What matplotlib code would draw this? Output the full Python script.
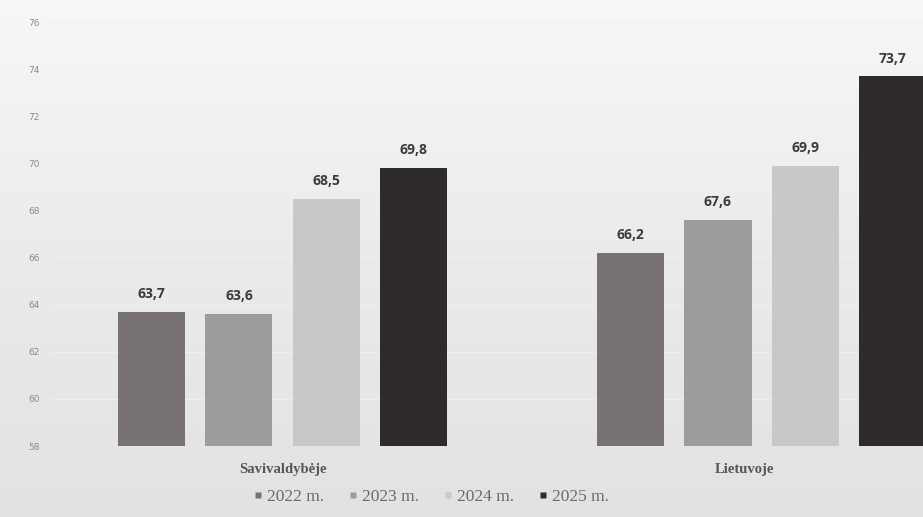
import matplotlib
matplotlib.use("Agg")
import matplotlib.pyplot as plt
import numpy as np
from matplotlib.lines import Line2D

categories = ["Savivaldybėje", "Lietuvoje"]
years = ["2022 m.", "2023 m.", "2024 m.", "2025 m."]
values = {
    "2022 m.": [63.7, 66.2],
    "2023 m.": [63.6, 67.6],
    "2024 m.": [68.5, 69.9],
    "2025 m.": [69.8, 73.7],
}
yticks = [58, 60, 62, 64, 66, 68, 70, 72, 74, 76]
colors = ["#787274", "#9d9b9c", "#c9c8c9", "#2f2a2d"]

fig = plt.figure(figsize=(9.23, 5.17), dpi=100)

# background gradient
bg = fig.add_axes([0, 0, 1, 1], zorder=-10)
grad = np.linspace(0, 1, 256).reshape(-1, 1)
bg.imshow(grad, aspect="auto", cmap=matplotlib.colors.LinearSegmentedColormap.from_list(
    "g", ["#f7f7f6", "#ebebea", "#e2e2e2"]), extent=[0, 1, 0, 1], origin="upper")
bg.axis("off")

ax = fig.add_axes([51 / 923, 71 / 517, 872 / 923, 424 / 517])
ax.set_facecolor("none")

centers = np.array([0, 5.5])
offsets = [-1.5, -0.5, 0.5, 1.5]
width = 0.77
for i, y in enumerate(years):
    xs = centers + offsets[i]
    ax.bar(xs, np.array(values[y]) - 58, bottom=58, width=width,
           color=colors[i], zorder=3)
    for x, v in zip(xs, values[y]):
        ax.text(x, v + 0.45, f"{v:.1f}".replace(".", ","), ha="center", va="bottom",
                fontsize=10, fontweight="bold", color="#3c3a3b",
                family="Open Sans", zorder=4)

ax.set_xlim(-2.658, 7.354)
ax.set_ylim(58, 76)
ax.set_yticks(yticks)
ax.set_yticklabels([str(t) for t in yticks], fontsize=6.5, color="#8a8a8a")
ax.tick_params(axis="y", length=0, pad=8)
ax.tick_params(axis="x", length=0)
ax.set_xticks([])
for s in ax.spines.values():
    s.set_visible(False)
ax.grid(axis="y", color="#f0f0f0", linewidth=0.7, zorder=0)

for c, name in zip(centers, categories):
    ax.text(c if name != "Lietuvoje" else c - 0.2, 57.0, name, ha="center", va="center",
            fontsize=10.5, fontweight="bold", color="#555555",
            family="Liberation Serif")

handles = [Line2D([0], [0], marker="s", linestyle="none", markersize=5,
                  markerfacecolor=colors[i], markeredgecolor="none") for i in range(4)]
fig.legend(handles, years, loc="center", bbox_to_anchor=(430 / 923, 1 - 497 / 517),
           ncol=4, frameon=False, prop={"family": "Liberation Serif", "size": 12.5},
           labelcolor="#6a6a6a", handletextpad=0.1, columnspacing=1.3,
           handlelength=0.8)

fig.savefig("out.png", dpi=100)
